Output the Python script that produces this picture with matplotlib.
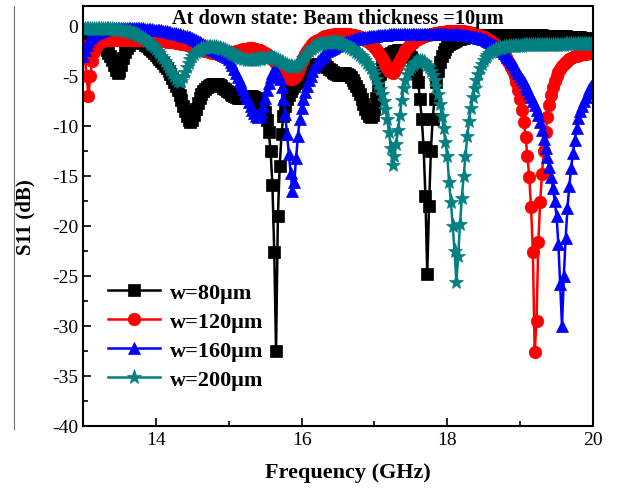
import numpy as np
import matplotlib
matplotlib.use("Agg")
import matplotlib.pyplot as plt
from matplotlib.lines import Line2D
from matplotlib.ticker import MultipleLocator

plt.rcParams['font.family'] = ['Liberation Serif', 'DejaVu Serif']
plt.rcParams['axes.unicode_minus'] = False

# frequency sweep, 13-20 GHz in 25 MHz steps
freq = np.round(np.arange(13.0, 20.0001, 0.025), 3)

# S11 (dB) for each beam width, one row per 0.25 GHz
s11_w80 = [
    -1.2, -1.2, -1.2, -1.2, -1.2, -1.2, -1.3, -1.3, -1.4, -1.5,
    -1.7, -1.9, -2.1, -2.4, -2.7, -3.0, -3.4, -3.9, -4.4, -4.7,
    -4.5, -3.9, -3.2, -2.6, -2.2, -1.9, -1.7, -1.6, -1.5, -1.5,
    -1.5, -1.5, -1.6, -1.7, -1.9, -2.0, -2.2, -2.3, -2.5, -2.7,
    -2.9, -3.1, -3.3, -3.5, -3.7, -4.0, -4.2, -4.5, -4.8, -5.2,
    -5.6, -6.0, -6.4, -6.9, -7.4, -8.0, -8.5, -9.0, -9.4, -9.6,
    -9.4, -8.9, -8.3, -7.7, -7.2, -6.8, -6.5, -6.3, -6.1, -6.0,
    -5.9, -5.8, -5.8, -5.8, -5.8, -5.9, -6.0, -6.2, -6.3, -6.5,
    -6.6, -6.8, -6.9, -7.0, -7.1, -7.2, -7.2, -7.2, -7.2, -7.1,
    -7.1, -7.0, -7.0, -7.0, -7.1, -7.2, -7.4, -7.6, -7.9, -8.2,
    -8.6, -9.4, -10.6, -12.5, -15.9, -22.6, -32.5, -19.0, -14.0, -10.8,
    -9.0, -8.0, -7.3, -6.9, -6.5, -6.2, -6.0, -5.7, -5.5, -5.2,
    -4.9, -4.7, -4.5, -4.3, -4.2, -4.0, -3.9, -3.8, -3.8, -3.8,
    -3.8, -3.8, -3.9, -4.0, -4.1, -4.3, -4.4, -4.6, -4.7, -4.8,
    -4.9, -4.9, -4.8, -4.7, -4.7, -4.8, -4.9, -5.1, -5.4, -5.7,
    -6.0, -6.4, -6.8, -7.3, -7.8, -8.3, -8.7, -9.0, -9.1, -8.9,
    -8.3, -7.2, -5.9, -4.8, -4.0, -3.5, -3.2, -3.0, -2.8, -2.7,
    -2.6, -2.5, -2.5, -2.4, -2.4, -2.4, -2.4, -2.5, -2.6, -2.8,
    -3.1, -3.5, -4.0, -4.7, -5.6, -7.3, -9.3, -12.1, -17.0, -24.8,
    -18.0, -12.5, -9.3, -7.3, -5.6, -4.5, -3.6, -3.0, -2.6, -2.3,
    -2.0, -1.8, -1.7, -1.6, -1.5, -1.4, -1.3, -1.3, -1.2, -1.2,
    -1.1, -1.1, -1.1, -1.0, -1.0, -1.0, -1.0, -1.0, -1.0, -0.9,
    -0.9, -0.9, -0.9, -0.9, -0.9, -0.9, -0.9, -0.9, -0.9, -0.9,
    -0.9, -0.9, -0.9, -0.9, -0.9, -0.9, -0.9, -0.9, -0.9, -0.9,
    -0.9, -0.9, -0.9, -0.9, -0.9, -0.9, -0.9, -0.9, -0.9, -0.9,
    -0.9, -0.9, -0.9, -1.0, -1.0, -1.0, -1.0, -1.0, -1.0, -1.0,
    -1.0, -1.0, -1.0, -1.0, -1.0, -1.0, -1.1, -1.1, -1.1, -1.1,
    -1.1, -1.1, -1.1, -1.1, -1.2, -1.2, -1.2, -1.2, -1.2, -1.2,
    -1.2,
]

s11_w120 = [
    -2.0, -3.2, -5.0, -7.0, -5.0, -3.5, -2.6, -2.1, -1.8, -1.6,
    -1.5, -1.5, -1.4, -1.4, -1.4, -1.4, -1.4, -1.4, -1.4, -1.4,
    -1.4, -1.4, -1.4, -1.4, -1.4, -1.4, -1.4, -1.4, -1.4, -1.4,
    -1.4, -1.4, -1.4, -1.4, -1.4, -1.4, -1.5, -1.5, -1.5, -1.5,
    -1.5, -1.5, -1.5, -1.5, -1.5, -1.5, -1.6, -1.6, -1.6, -1.6,
    -1.6, -1.7, -1.7, -1.7, -1.8, -1.8, -1.8, -1.9, -1.9, -2.0,
    -2.0, -2.1, -2.1, -2.2, -2.3, -2.3, -2.4, -2.5, -2.5, -2.6,
    -2.6, -2.7, -2.7, -2.7, -2.8, -2.8, -2.8, -2.8, -2.8, -2.7,
    -2.7, -2.7, -2.6, -2.6, -2.5, -2.5, -2.4, -2.4, -2.3, -2.3,
    -2.3, -2.2, -2.2, -2.2, -2.3, -2.3, -2.4, -2.4, -2.5, -2.6,
    -2.7, -2.8, -3.0, -3.1, -3.3, -3.5, -3.7, -3.9, -4.1, -4.4,
    -4.6, -4.8, -5.0, -5.2, -5.3, -5.3, -5.2, -5.0, -4.6, -4.1,
    -3.6, -3.2, -2.8, -2.5, -2.2, -2.0, -1.8, -1.6, -1.5, -1.4,
    -1.3, -1.2, -1.1, -1.0, -1.0, -0.9, -0.9, -0.9, -0.8, -0.8,
    -0.8, -0.8, -0.8, -0.8, -0.8, -0.8, -0.8, -0.9, -0.9, -0.9,
    -1.0, -1.0, -1.1, -1.2, -1.3, -1.4, -1.5, -1.6, -1.8, -1.9,
    -2.1, -2.3, -2.6, -2.9, -3.2, -3.5, -3.9, -4.2, -4.5, -4.6,
    -4.7, -4.6, -4.2, -3.8, -3.4, -3.0, -2.7, -2.4, -2.2, -2.0,
    -1.8, -1.7, -1.5, -1.4, -1.3, -1.2, -1.1, -1.0, -1.0, -0.9,
    -0.9, -0.8, -0.8, -0.7, -0.7, -0.7, -0.6, -0.6, -0.6, -0.6,
    -0.5, -0.5, -0.5, -0.5, -0.5, -0.5, -0.5, -0.5, -0.5, -0.5,
    -0.6, -0.6, -0.6, -0.7, -0.7, -0.8, -0.8, -0.9, -1.0, -1.0,
    -1.1, -1.2, -1.3, -1.4, -1.5, -1.7, -1.8, -2.0, -2.2, -2.4,
    -2.6, -2.8, -3.1, -3.4, -3.7, -4.1, -4.5, -5.0, -5.6, -6.4,
    -7.3, -8.4, -9.6, -11.1, -13.0, -15.1, -18.1, -22.6, -32.6, -29.5,
    -21.6, -17.6, -14.8, -12.5, -10.6, -9.1, -7.9, -6.9, -6.1, -5.5,
    -5.0, -4.6, -4.3, -4.0, -3.8, -3.6, -3.5, -3.3, -3.2, -3.1,
    -3.0, -3.0, -2.9, -2.9, -2.8, -2.8, -2.8, -2.7, -2.7, -2.7,
    -2.7,
]

s11_w160 = [
    -3.0, -2.4, -1.9, -1.5, -1.2, -1.0, -0.8, -0.7, -0.6, -0.5,
    -0.5, -0.4, -0.4, -0.3, -0.3, -0.3, -0.3, -0.2, -0.2, -0.2,
    -0.2, -0.2, -0.2, -0.2, -0.2, -0.2, -0.2, -0.2, -0.2, -0.2,
    -0.2, -0.2, -0.2, -0.2, -0.3, -0.3, -0.3, -0.3, -0.3, -0.4,
    -0.4, -0.4, -0.4, -0.4, -0.5, -0.5, -0.5, -0.6, -0.6, -0.7,
    -0.7, -0.7, -0.8, -0.8, -0.9, -0.9, -1.0, -1.0, -1.1, -1.1,
    -1.2, -1.3, -1.4, -1.5, -1.6, -1.7, -1.8, -1.9, -2.0, -2.1,
    -2.2, -2.3, -2.4, -2.5, -2.6, -2.7, -2.8, -2.9, -3.0, -3.1,
    -3.3, -3.6, -3.9, -4.3, -4.7, -5.1, -5.5, -5.9, -6.3, -6.8,
    -7.2, -7.6, -8.0, -8.4, -8.7, -9.0, -9.1, -9.0, -8.6, -8.0,
    -7.2, -6.4, -5.7, -5.1, -4.7, -4.5, -4.5, -4.8, -5.3, -6.1,
    -7.3, -8.8, -10.8, -12.8, -14.7, -16.5, -15.6, -13.2, -11.0, -9.3,
    -8.2, -7.3, -6.6, -6.0, -5.4, -5.0, -4.5, -4.1, -3.8, -3.5,
    -3.3, -3.1, -2.9, -2.7, -2.5, -2.4, -2.3, -2.2, -2.1, -2.0,
    -1.9, -1.8, -1.7, -1.7, -1.6, -1.5, -1.5, -1.4, -1.4, -1.3,
    -1.3, -1.2, -1.2, -1.2, -1.1, -1.1, -1.1, -1.0, -1.0, -1.0,
    -1.0, -1.0, -0.9, -0.9, -0.9, -0.9, -0.9, -0.9, -0.8, -0.8,
    -0.8, -0.8, -0.8, -0.8, -0.8, -0.8, -0.8, -0.8, -0.8, -0.8,
    -0.8, -0.8, -0.8, -0.8, -0.8, -0.8, -0.8, -0.8, -0.8, -0.8,
    -0.8, -0.8, -0.8, -0.8, -0.8, -0.8, -0.8, -0.8, -0.8, -0.8,
    -0.8, -0.8, -0.8, -0.8, -0.8, -0.8, -0.8, -0.9, -0.9, -0.9,
    -0.9, -0.9, -1.0, -1.0, -1.0, -1.1, -1.1, -1.2, -1.2, -1.3,
    -1.3, -1.4, -1.5, -1.6, -1.7, -1.8, -1.9, -2.0, -2.2, -2.3,
    -2.5, -2.7, -2.9, -3.1, -3.3, -3.6, -3.8, -4.1, -4.4, -4.7,
    -5.0, -5.3, -5.6, -6.0, -6.3, -6.7, -7.1, -7.5, -7.9, -8.4,
    -8.9, -9.6, -10.4, -11.3, -12.2, -13.1, -14.1, -15.1, -16.2, -17.5,
    -19.0, -21.8, -25.8, -30.0, -25.0, -21.2, -18.2, -16.0, -14.2, -12.7,
    -11.4, -10.2, -9.2, -8.5, -8.0, -7.5, -7.1, -6.7, -6.3, -6.0,
    -5.8,
]

s11_w200 = [
    -0.3, -0.3, -0.3, -0.3, -0.3, -0.3, -0.3, -0.3, -0.3, -0.3,
    -0.3, -0.3, -0.3, -0.3, -0.3, -0.3, -0.3, -0.4, -0.4, -0.4,
    -0.4, -0.4, -0.5, -0.5, -0.5, -0.6, -0.6, -0.7, -0.7, -0.8,
    -0.9, -1.0, -1.1, -1.2, -1.3, -1.5, -1.6, -1.8, -1.9, -2.1,
    -2.3, -2.5, -2.7, -3.0, -3.2, -3.5, -3.8, -4.1, -4.4, -4.7,
    -5.0, -5.3, -5.5, -5.6, -5.5, -5.1, -4.6, -4.1, -3.7, -3.3,
    -3.0, -2.8, -2.6, -2.5, -2.4, -2.3, -2.2, -2.2, -2.1, -2.1,
    -2.1, -2.1, -2.1, -2.1, -2.2, -2.2, -2.3, -2.3, -2.4, -2.5,
    -2.6, -2.7, -2.8, -2.9, -3.0, -3.1, -3.2, -3.2, -3.3, -3.3,
    -3.4, -3.4, -3.4, -3.4, -3.4, -3.4, -3.3, -3.3, -3.3, -3.2,
    -3.2, -3.2, -3.1, -3.1, -3.2, -3.2, -3.3, -3.4, -3.5, -3.6,
    -3.7, -3.8, -3.9, -4.0, -4.0, -4.1, -4.1, -4.0, -3.9, -3.7,
    -3.5, -3.2, -3.0, -2.7, -2.5, -2.3, -2.2, -2.1, -2.0, -1.9,
    -1.8, -1.8, -1.7, -1.7, -1.7, -1.6, -1.6, -1.6, -1.6, -1.7,
    -1.7, -1.7, -1.8, -1.8, -1.9, -2.0, -2.1, -2.2, -2.3, -2.4,
    -2.6, -2.7, -2.9, -3.0, -3.2, -3.4, -3.7, -3.9, -4.2, -4.5,
    -4.8, -5.3, -5.8, -6.3, -6.8, -7.5, -8.3, -9.3, -10.6, -12.2,
    -13.9, -13.0, -11.8, -10.4, -8.9, -7.4, -6.2, -5.4, -4.8, -4.4,
    -4.1, -3.9, -3.7, -3.6, -3.5, -3.5, -3.5, -3.6, -3.7, -3.9,
    -4.1, -4.5, -4.9, -5.4, -6.0, -6.8, -7.8, -9.0, -10.2, -11.6,
    -13.0, -15.6, -17.6, -20.0, -22.5, -25.6, -23.0, -19.8, -17.2, -15.0,
    -13.0, -11.0, -9.5, -8.2, -7.1, -6.2, -5.4, -4.8, -4.2, -3.8,
    -3.4, -3.1, -2.9, -2.7, -2.6, -2.5, -2.4, -2.3, -2.3, -2.2,
    -2.2, -2.1, -2.1, -2.1, -2.0, -2.0, -2.0, -2.0, -2.0, -2.0,
    -2.0, -2.0, -1.9, -1.9, -1.9, -1.9, -1.9, -1.9, -1.9, -1.9,
    -1.9, -1.9, -1.9, -1.9, -1.9, -1.9, -1.9, -1.9, -1.9, -1.9,
    -1.9, -1.9, -1.9, -1.9, -1.9, -1.8, -1.8, -1.8, -1.8, -1.8,
    -1.8, -1.8, -1.8, -1.8, -1.8, -1.8, -1.8, -1.8, -1.8, -1.8,
    -1.8,
]

labels = ['w=80\u03bcm', 'w=120\u03bcm', 'w=160\u03bcm', 'w=200\u03bcm']
colors = ['black', 'red', 'blue', '#008080']
markers = ['s', 'o', '^', '*']
msizes = [8, 9, 9, 11]
series = [s11_w80, s11_w120, s11_w160, s11_w200]

fig = plt.figure(figsize=(6.18, 4.89), dpi=100)
ax = fig.add_axes([0.1343, 0.1268, 0.8252, 0.8589])

for ys, lab, c, m, ms in zip(series, labels, colors, markers, msizes):
    ax.plot(freq, ys, color=c, marker=m, markersize=ms, lw=1.8,
            markeredgewidth=0.5, label=lab)

ax.set_xlim(13, 20)
ax.set_ylim(-40, 2)
ax.xaxis.set_major_locator(MultipleLocator(2))
ax.xaxis.set_minor_locator(MultipleLocator(1))
ax.yaxis.set_major_locator(MultipleLocator(5))
ax.yaxis.set_minor_locator(MultipleLocator(2.5))
ax.tick_params(which='both', direction='in', top=False, right=False,
               labelsize=14, width=1.2)
ax.tick_params(which='major', length=6)
ax.tick_params(which='minor', length=3.5)
for sp in ax.spines.values():
    sp.set_linewidth(1.5)

ax.set_xlabel('Frequency (GHz)', fontsize=16, fontweight='bold')
ax.set_ylabel('S11 (dB)', fontsize=15, fontweight='bold', labelpad=12)
ax.xaxis.set_label_coords(0.52, -0.085)

ax.text(0.5, 0.995, 'At down state: Beam thickness =10\u03bcm',
        transform=ax.transAxes, ha='center', va='top',
        fontsize=14.6, fontweight='bold')

ax.legend(loc='upper left', bbox_to_anchor=(0.05, 0.342), frameon=False,
          prop=dict(weight='bold', size=16), handlelength=2.3,
          labelspacing=0.38, handletextpad=0.45, borderaxespad=0, borderpad=0)

# thin rule down the left margin
fig.add_artist(Line2D([14 / 618, 14 / 618], [1 - 7 / 489, 1 - 430 / 489],
                      color='0.45', lw=0.8))

fig.savefig('out.png', dpi=100)
